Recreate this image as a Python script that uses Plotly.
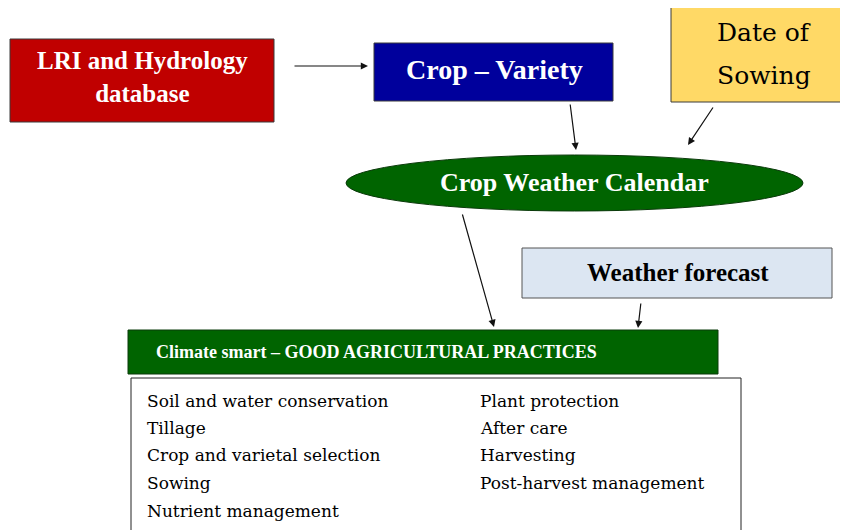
import plotly.graph_objects as go

# Diagram content
source_label = "LRI and Hydrology<br>database"
variety_label = "Crop – Variety"
sowing_lines = ["Date of", "Sowing"]
calendar_label = "Crop Weather Calendar"
forecast_label = "Weather forecast"
practices_title = "Climate smart – GOOD AGRICULTURAL PRACTICES"
practices_left = ["Soil and water conservation", "Tillage", "Crop and varietal selection",
                  "Sowing", "Nutrient management"]
practices_right = ["Plant protection", "After care", "Harvesting", "Post-harvest management"]

W, H = 848, 530
OFF = 8  # page body margin
fig = go.Figure()
fig.add_trace(go.Scatter(x=[OFF, W + OFF], y=[OFF, H + OFF], mode="markers", marker=dict(opacity=0),
                         hoverinfo="skip", showlegend=False))

SERIF = "Liberation Serif"
BOOK = "DejaVu Serif"
BORDER = "#3a3a3a"

def box(x0, y0, x1, y1, fill, line=BORDER, kind="rect"):
    fig.add_shape(type=kind, x0=x0, y0=y0, x1=x1, y1=y1, xref="x", yref="y",
                  fillcolor=fill, line=dict(color=line, width=1), layer="below")

def text(x, y, s, size, color, bold=False, anchor="center", family=SERIF):
    fig.add_annotation(x=x, y=y, xref="x", yref="y", text=(f"<b>{s}</b>" if bold else s),
                       showarrow=False, xanchor=anchor, yanchor="middle",
                       font=dict(family=family, size=size, color=color))

def arrow(x0, y0, x1, y1):
    fig.add_annotation(x=x1, y=y1, ax=x0, ay=y0, xref="x", yref="y", axref="x", ayref="y",
                       text="", showarrow=True, arrowhead=2, arrowsize=1.2,
                       arrowwidth=1.2, arrowcolor="#111111")

# Boxes
box(10, 39, 274, 122, "#C00000")
box(374, 43, 613, 101, "#00009C")
box(671, 6, 842, 102, "#FFD966")
box(346, 155, 803, 211, "#006400", line="#0a3a0a", kind="circle")
box(522, 248, 832, 298, "#DCE6F2", line="#555555")
box(128, 330, 718, 374, "#006400", line="#0a3a0a")
box(131, 378, 741, 545, "#FFFFFF", line="#222222")

# Texts
text(142, 77, source_label, 25, "white", bold=True)
text(494, 69, variety_label, 28, "white", bold=True)
for s, yy in zip(sowing_lines, [32, 75]):
    text(764, yy, s, 25, "black", family=BOOK)
text(574, 182, calendar_label, 26, "white", bold=True)
text(678, 272, forecast_label, 25, "black", bold=True)
text(376, 352, practices_title, 18, "white", bold=True)

row_y = [401, 428, 455, 483, 511]
for i, s in enumerate(practices_left):
    text(145, row_y[i], s, 17, "black", anchor="left", family=BOOK)
for i, s in enumerate(practices_right):
    text(478, row_y[i], s, 17, "black", anchor="left", family=BOOK)

# Arrows
arrow(293, 66, 368, 66)
arrow(570, 103, 576, 150)
arrow(714, 106, 688, 145)
arrow(462, 213, 494, 327)
arrow(641, 302, 638, 328)

fig.update_layout(width=W, height=H, margin=dict(l=0, r=0, t=0, b=0),
                  paper_bgcolor="white", plot_bgcolor="white", showlegend=False,
                  xaxis=dict(range=[OFF, W + OFF], visible=False, fixedrange=True),
                  yaxis=dict(range=[H + OFF, OFF], visible=False, fixedrange=True))
fig.write_html("out.html", config={"displayModeBar": False})
